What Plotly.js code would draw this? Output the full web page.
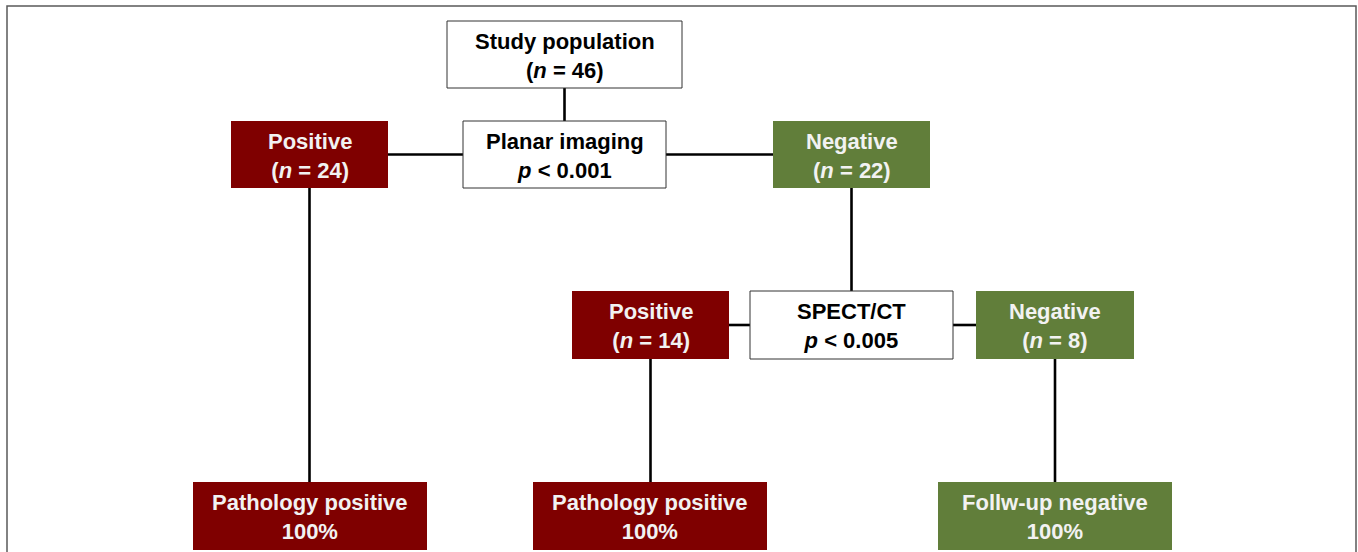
<!DOCTYPE html>
<html>
<head>
<meta charset="utf-8">
<script src="https://cdn.plot.ly/plotly-3.0.1.min.js"></script>
<style>html,body{margin:0;padding:0;background:#fff;}#chart{width:1358px;height:552px;}</style>
</head>
<body>
<div id="chart"></div>
<script>
// ---- data ----
const nodeTitles = ['Study population','Planar imaging','Positive','Negative','SPECT/CT','Positive','Negative','Pathology positive','Pathology positive','Follw-up negative'];
const nodeN      = [46, null, 24, 22, null, 14, 8, null, null, null];
const nodeP      = [null, '0.001', null, null, '0.005', null, null, null, null, null];
const nodePct    = [null, null, null, null, null, null, null, 100, 100, 100];
const nodeKind   = ['test','test','pos','neg','test','pos','neg','pos','pos','neg'];
const edgesFrom  = [0, 1, 1, 3, 4, 4, 2, 5, 6];
const edgesTo    = [1, 2, 3, 4, 5, 6, 7, 8, 9];

// ---- layout (box geometry: x0, x1, y0, y1 in axis units) ----
const boxGeom = [
  [447,682,21,88],[463,666,121,188],[231,388,121,188],[773,930,121,188],
  [750,953,291,359],[572,729,291,359],[976,1134,291,359],
  [193,427,482,550],[533,767,482,550],[938,1172,482,550]
];
const styles = {
  test: {fill:'#ffffff', line:'#333333', lw:1, text:'#000000'},
  pos:  {fill:'#7f0000', line:'#7f0000', lw:0, text:'#f2f2f2'},
  neg:  {fill:'#617e3a', line:'#617e3a', lw:0, text:'#f2f2f2'}
};

function labelFor(i){
  let second = '';
  if (nodeN[i] !== null) second = '(<i>n</i> = ' + nodeN[i] + ')';
  else if (nodeP[i] !== null) second = '<i>p</i> &lt; ' + nodeP[i];
  else if (nodePct[i] !== null) second = nodePct[i] + '%';
  return '<b>' + nodeTitles[i] + '<br>' + second + '</b>';
}

const shapes = [];
// outer frame
shapes.push({type:'rect', xref:'x', yref:'y', x0:7, x1:1356, y0:6, y1:600,
  line:{color:'#5a5a5a', width:1.5}, fillcolor:'rgba(0,0,0,0)', layer:'below'});

// connectors
for (let k = 0; k < edgesFrom.length; k++){
  const a = boxGeom[edgesFrom[k]], b = boxGeom[edgesTo[k]];
  const vOverlap = Math.min(a[3], b[3]) - Math.max(a[2], b[2]);
  let s;
  if (vOverlap > 0){
    const y = (a[2] + a[3]) / 2;
    const left = a[1] < b[0] ? a[1] : b[1];
    const right = a[1] < b[0] ? b[0] : a[0];
    s = {x0:left, x1:right, y0:y, y1:y};
  } else {
    const x = (a[0] + a[1]) / 2;
    s = {x0:x, x1:x, y0:a[3], y1:b[2]};
  }
  shapes.push(Object.assign({type:'line', xref:'x', yref:'y', line:{color:'#000', width:2.6}}, s));
}

// boxes
const annotations = [];
for (let i = 0; i < nodeTitles.length; i++){
  const g = boxGeom[i], st = styles[nodeKind[i]];
  shapes.push({type:'rect', xref:'x', yref:'y', x0:g[0], x1:g[1], y0:g[2], y1:g[3],
    fillcolor:st.fill, line:{color:st.line, width:st.lw}});
  annotations.push({xref:'x', yref:'y', x:(g[0]+g[1])/2, y:(g[2]+g[3])/2 + 1,
    text:labelFor(i), showarrow:false, align:'center',
    font:{family:'Liberation Sans, Arial, sans-serif', size:22, color:st.text}});
}

const layout = {
  width:1358, height:552,
  margin:{l:0, r:0, t:0, b:0},
  paper_bgcolor:'#ffffff', plot_bgcolor:'#ffffff',
  xaxis:{range:[0,1358], visible:false, fixedrange:true},
  yaxis:{range:[552,0], visible:false, fixedrange:true},
  showlegend:false,
  shapes:shapes,
  annotations:annotations
};
Plotly.newPlot('chart', [{x:[], y:[], type:'scatter', mode:'markers', hoverinfo:'skip'}], layout, {displayModeBar:false, staticPlot:true});
</script>
</body>
</html>
